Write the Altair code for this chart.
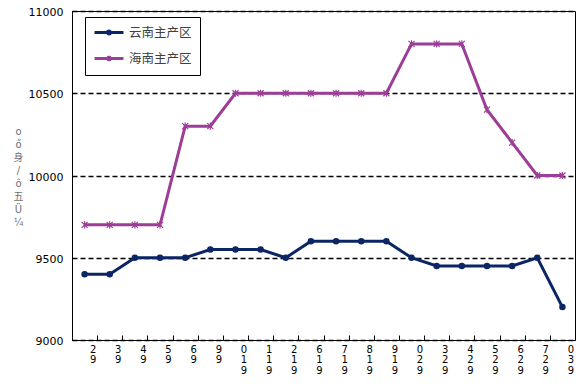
import altair as alt
import pandas as pd

dates = ["2|9", "3|9", "4|9", "5|9", "6|9", "9|9", "0|1|9", "1|1|9", "2|1|9", "6|1|9",
         "7|1|9", "8|1|9", "9|1|9", "0|2|9", "3|2|9", "4|2|9", "5|2|9", "6|2|9", "7|2|9", "0|3|9"]
yunnan = [9400, 9400, 9500, 9500, 9500, 9550, 9550, 9550, 9500, 9600,
          9600, 9600, 9600, 9500, 9450, 9450, 9450, 9450, 9500, 9200]
hainan = [9700, 9700, 9700, 9700, 10300, 10300, 10500, 10500, 10500, 10500,
          10500, 10500, 10500, 10800, 10800, 10800, 10400, 10200, 10000, 10000]
series = ["云南主产区", "海南主产区"]
colors = ["#0B2565", "#9C3D97"]
y_title = ["o", "ő", "身", "/", "ô", "五", "Ü", "¼"]

rows = []
for s, c, vals in [(series[0], colors[0], yunnan), (series[1], colors[1], hainan)]:
    for i, (d, v) in enumerate(zip(dates, vals)):
        rows.append({"date": d, "value": v, "series": s, "color": c, "idx": i})
df = pd.DataFrame(rows)

x_enc = alt.X(
    "date:N", sort=dates,
    scale=alt.Scale(type="band", paddingInner=0, paddingOuter=0),
    axis=alt.Axis(
        title=None, labelAngle=0, tickBand="extent",
        labelExpr="split(datum.label, '|')",
        labelOffset=8, labelFontSize=10, labelLineHeight=10.5,
        labelBaseline="top", labelPadding=4, labelFont="DejaVu Sans",
        labelColor="black", tickSize=5, tickColor="black",
        domain=False, offset=-5,
    ),
)
y_enc = alt.Y(
    "value:Q",
    scale=alt.Scale(domain=[9000, 11000]),
    axis=alt.Axis(
        values=[9000, 9500, 10000, 10500, 11000], format="d", grid=True,
        gridDash=[5, 3], gridColor="black", gridWidth=1.6,
        ticks=False, labelPadding=9, labelFont="DejaVu Sans",
        labelFontSize=11, labelColor="black", domainColor="black",
        labelOffset=1.5,
        title=y_title, titleAngle=0, titleX=-54, titleY=115,
        titleBaseline="top", titleAlign="center", titleLineHeight=13,
        titleFontSize=10, titleColor="#707070", titleFontWeight="normal",
        titleFont="DejaVu Sans, Noto Sans CJK SC",
    ),
)

base = alt.Chart(df)

lines = base.mark_line(strokeWidth=3).encode(
    x=x_enc, y=y_enc,
    color=alt.Color("color:N", scale=None),
    detail="series:N", order="idx:Q",
)

pts_y = base.transform_filter(alt.datum.series == series[0]).mark_circle(
    size=42, opacity=1, color=colors[0]
).encode(x=x_enc, y=y_enc)

asterisk = "M-1,-1L1,1M-1,1L1,-1M0,-1.2L0,1.2"
pts_h = base.transform_filter(alt.datum.series == series[1]).mark_point(
    shape=asterisk, size=36, filled=False, strokeWidth=1.2, opacity=1, color=colors[1]
).encode(x=x_enc, y=y_enc)

leg_paths = [
    "M-1,0H3.83M1.17,0a0.25,0.25 0 1,0 0.5,0a0.25,0.25 0 1,0 -0.5,0",
    "M-1,0H3.83M1.1,-0.35L1.74,0.35M1.1,0.35L1.74,-0.35",
]
leg = alt.Legend(
    orient="none", legendX=13, legendY=6, title=None,
    fillColor="white", strokeColor="black", padding=8,
    symbolSize=144, symbolStrokeWidth=3, labelOffset=21,
    labelFontSize=12.5, labelFont="Noto Sans CJK SC", labelColor="#404040",
    rowPadding=10,
)
legend_layer = base.transform_filter("false").mark_point(
    filled=False, strokeWidth=3, opacity=1
).encode(
    color=alt.Color("series:N", scale=alt.Scale(domain=series, range=colors), legend=leg),
    shape=alt.Shape("series:N", scale=alt.Scale(domain=series, range=leg_paths), legend=leg),
)

chart = alt.layer(lines, pts_y, pts_h, legend_layer).properties(
    width=503, height=329,
    autosize=alt.AutoSizeParams(type="none"),
    padding={"left": 64, "top": 3, "right": 3, "bottom": 38},
    background="white",
).configure_view(
    fill="#D9D9D9", stroke="black", strokeWidth=1
)

chart.save("out.html", embed_options={"renderer": "svg", "actions": False})
